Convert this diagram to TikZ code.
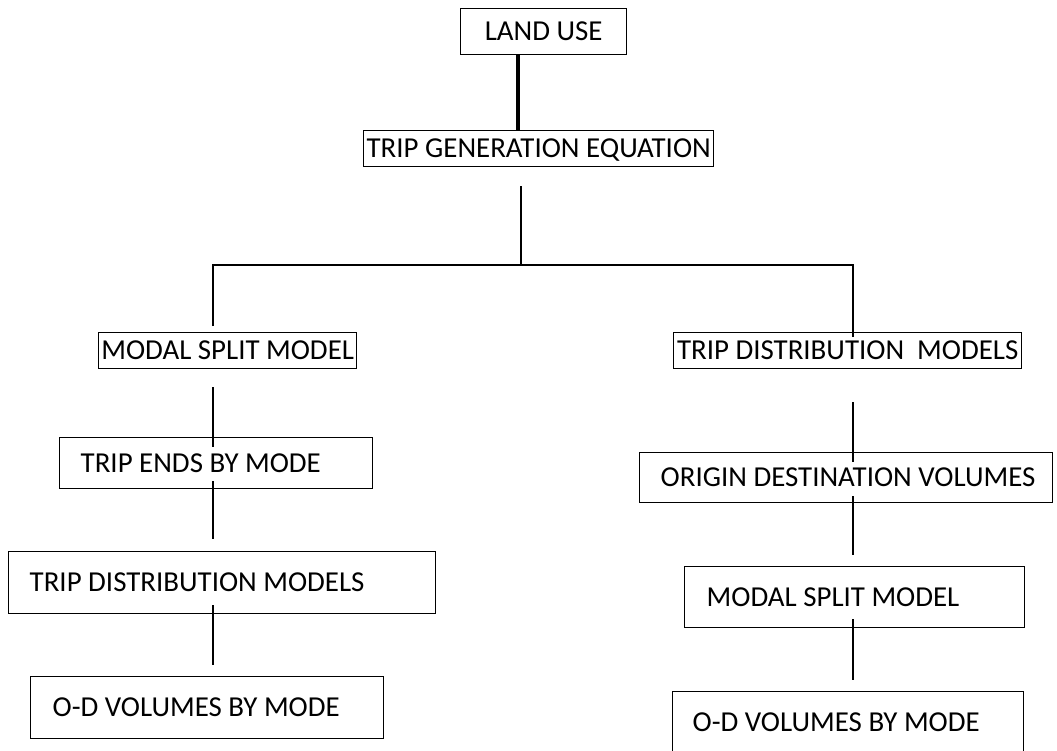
\documentclass[tikz,border=0pt]{standalone}
\usepackage{fontspec}
\setmainfont{Carlito}
\usepackage{tikz}
\usetikzlibrary{positioning,calc}

\tikzset{
  box/.style={draw, line width=1.4pt, anchor=north west, inner sep=0pt, text height=18.5pt, text depth=0pt},
  wbox/.style 2 args={box, text width=#1, align=flush left, execute at begin node={\hspace*{#2}}},
  link/.style={line width=1.1pt},
  stem/.style={line width=4pt}
}

\begin{document}
\begin{tikzpicture}[x=1pt, y=-1pt, every node/.style={font=\fontsize{28.9pt}{34pt}\selectfont}]
                    \clip (0,0) rectangle (1057,750);
                    % top of the chart
                    \node[box, minimum width=166pt, minimum height=46pt] (LandUse) at (460,8) {LAND USE};
                    \node[box, minimum width=350pt, minimum height=36pt] (TripGen) at (363,130) {TRIP GENERATION EQUATION};
                    \coordinate (Stem) at (518,0);
                    \coordinate (Fork) at (521,265);
                    \coordinate (ColL) at (213,265);
                    \coordinate (ColR) at (853,265);
                    % left branch
                    \node[box, minimum width=258pt, minimum height=36pt] (ModalL) at (98,332) {MODAL SPLIT MODEL};
                    \node[wbox={313pt}{21pt}, minimum height=51pt] (TripEnds) at (59,437) {TRIP ENDS BY MODE};
                    \node[wbox={427pt}{21pt}, minimum height=62pt] (DistL) at (8,551) {TRIP DISTRIBUTION MODELS};
                    \node[wbox={353pt}{22pt}, minimum height=62pt] (ODL) at (30,676) {O-D VOLUMES BY MODE};
                    % right branch
                    \node[box, minimum width=348pt, minimum height=36pt] (DistR) at (673,332) {TRIP DISTRIBUTION~ MODELS};
                    \node[wbox={413pt}{21pt}, minimum height=50pt] (OrigDest) at (639,452) {ORIGIN DESTINATION VOLUMES};
                    \node[wbox={340pt}{22pt}, minimum height=61pt] (ModalR) at (684,566) {MODAL SPLIT MODEL};
                    \node[wbox={351pt}{20pt}, minimum height=62pt] (ODR) at (672,691) {O-D VOLUMES BY MODE};
                    % connectors
                    \draw[stem] (LandUse.south -| Stem) -- (TripGen.north -| Stem);
                    \draw[link, shorten <=19pt] (TripGen.south -| Fork) -- (Fork);
                    \draw[link] ($(ColL |- ModalL.north)+(0,-6)$) -- (ColL) -- (ColR) -- ($(ColR |- DistR.north)+(0,5)$);
                    \draw[link, shorten <=18pt, shorten >=-10pt] (ModalL.south -| ColL) -- (TripEnds.north -| ColL);
                    \draw[link, shorten <=-8pt, shorten >=12pt] (TripEnds.south -| ColL) -- (DistL.north -| ColL);
                    \draw[link, shorten <=-9pt, shorten >=11pt] (DistL.south -| ColL) -- (ODL.north -| ColL);
                    \draw[link, shorten <=33pt, shorten >=-10pt] (DistR.south -| ColR) -- (OrigDest.north -| ColR);
                    \draw[link, shorten <=-7pt, shorten >=11pt] (OrigDest.south -| ColR) -- (ModalR.north -| ColR);
                    \draw[link, shorten <=-9pt, shorten >=11pt] (ModalR.south -| ColR) -- (ODR.north -| ColR);
                \end{tikzpicture}
\end{document}
